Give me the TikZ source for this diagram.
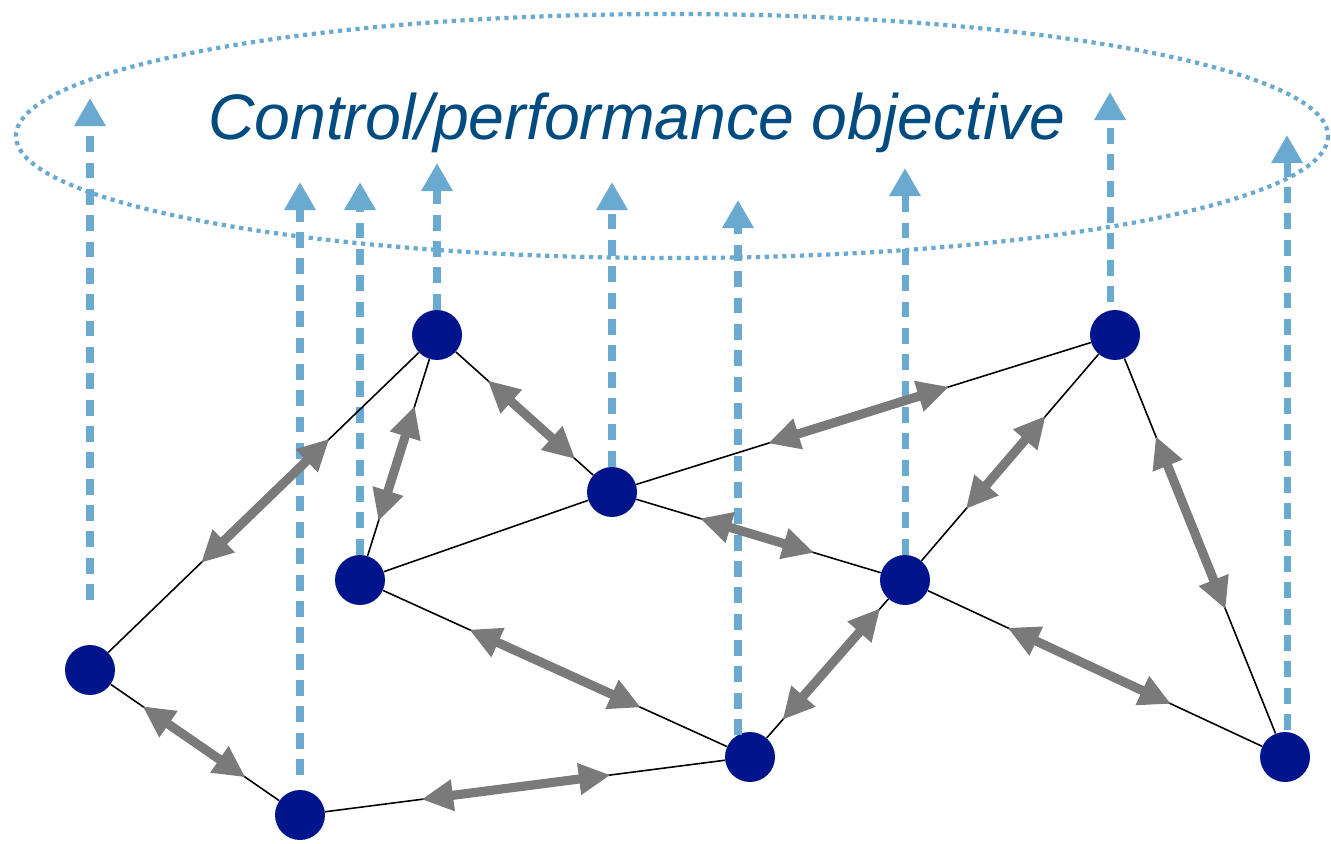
\documentclass[tikz,border=0pt]{standalone}
\usepackage{fontspec}
\setmainfont{Liberation Sans}
\usetikzlibrary{positioning}
\usetikzlibrary{arrows.meta}
\usetikzlibrary{calc}

\definecolor{agentblue}{RGB}{0,20,140}
\definecolor{goalblue}{RGB}{106,170,208}
\definecolor{linkgray}{RGB}{122,122,122}
\definecolor{titleblue}{RGB}{0,75,128}

\begin{document}
\begin{tikzpicture}[x=0.02cm, y=-0.02cm,
  agent/.style={circle, fill=agentblue, minimum size=1cm, inner sep=0pt},
  link/.style={black, line width=0.9pt},
  twoway/.style={linkgray, line width=5.2pt, {Triangle[length=18pt,width=17pt]}-{Triangle[length=18pt,width=17pt]}},
  goal/.style={goalblue, line width=4pt, dash pattern=on 9pt off 6pt, -{Triangle[length=16pt,width=17pt]}},
  objring/.style={goalblue, line width=2.4pt, dash pattern=on 2.4pt off 2.6pt}]
  \useasboundingbox (0,0) rectangle (1331,844);

  % The shared objective
  \draw[objring] (672,136) ellipse [x radius=656, y radius=122];
  \node[anchor=base, text=titleblue, font=\fontsize{36.6}{42}\selectfont\itshape] (objective) at (637,140) {Control/performance objective};

  % Agents
  \node[agent] (a1) at (90,670) {};
  \node[agent] (a2) at (300,815) {};
  \node[agent] (a3) at (437,335) {};
  \node[agent] (a4) at (360,580) {};
  \node[agent] (a5) at (612,492) {};
  \node[agent] (a6) at (750,757) {};
  \node[agent] (a7) at (905,580) {};
  \node[agent] (a8) at (1115,335) {};
  \node[agent] (a9) at (1285,757) {};

  % Ends of the upward arrows
  \foreach \i/\x/\y in {1/90/600, 2/300/775, 6/738/735, 8/1110/302, 9/1287/730}
    \coordinate (b\i) at (\x,\y);
  \foreach \i/\x/\y in {1/90/98, 2/300/182, 3/360/182, 4/437/163, 5/612/182, 6/738/200, 7/905/168, 8/1110/92, 9/1287/135}
    \coordinate (t\i) at (\x,\y);

  \foreach \s/\i in {b1/1, b2/2, a4.north/3, a3.north/4, a5.north/5, b6/6, a7.north/7, b8/8, b9/9}
    \draw[goal] (\s) -- (t\i);

  % Links and their two-way exchanges
  \draw[link] (a4) -- (a5);
  \foreach \u/\v/\p/\q in {a1/a3/0.32/0.69, a1/a2/0.25/0.74, a2/a6/0.27/0.69, a4/a3/0.24/0.71,
                          a3/a5/0.29/0.79, a4/a6/0.28/0.72, a5/a8/0.31/0.67, a5/a7/0.30/0.69,
                          a6/a7/0.21/0.84, a7/a8/0.29/0.67, a7/a9/0.27/0.70, a8/a9/0.24/0.65} {
    \draw[link] (\u) -- (\v);
    \draw[twoway] ($(\u)!\p!(\v)$) -- ($(\u)!\q!(\v)$);
  }
\end{tikzpicture}
\end{document}
